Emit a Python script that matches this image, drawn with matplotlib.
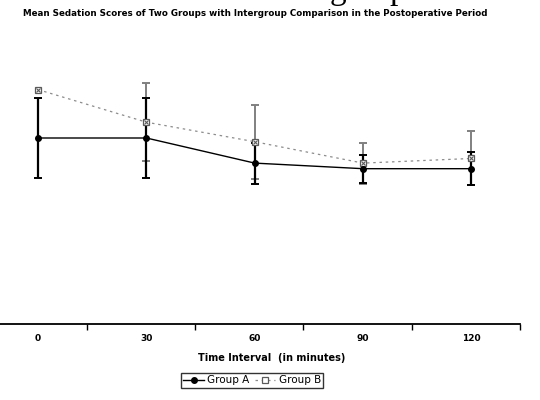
import numpy as np
import matplotlib.pyplot as plt

# time points (minutes)
time_labels = ["0", "30", "60", "90", "120"]

# mean sedation scores and SD
group_a = [2.00, 2.00, 1.73, 1.67, 1.67]
group_a_sd = [0.43, 0.43, 0.22, 0.15, 0.18]
group_b = [2.52, 2.17, 1.96, 1.73, 1.78]
group_b_sd = [0.00, 0.42, 0.40, 0.22, 0.29]

x = np.arange(len(time_labels))

fig = plt.figure(figsize=(5.4, 4.0), dpi=100)
ax = fig.add_axes([0.0, 0.19, 0.963, 0.6975])

# error bars first (Group B has no bar at 0 min)
ax.errorbar(x, group_b, yerr=group_b_sd, fmt="none", ecolor="#808080",
            elinewidth=1.4, capsize=3, capthick=1.4, errorevery=(1, 1), zorder=2)
ax.errorbar(x, group_a, yerr=group_a_sd, fmt="none", ecolor="black",
            elinewidth=1.6, capsize=3, capthick=1.4, zorder=3)

# Group A - solid black with dots
ax.plot(x, group_a, color="black", lw=1.0, marker="o", ms=4, label="Group A", zorder=4)
# Group B - dotted grey with boxed cross
ax.plot(x, group_b, color="#8c8c8c", lw=0.9, ls=(0, (2, 3)),
        marker="s", ms=5, mec="#5a5a5a", mfc="white", mew=0.9,
        label="Group B", zorder=3)
ax.plot(x, group_b, ls="none", marker="x", ms=3.5, mec="#5a5a5a", mew=0.8, zorder=3)

ax.set_xlim(-0.352, 4.343)
ax.set_ylim(0, 3)

for s in ["top", "right", "left"]:
    ax.spines[s].set_visible(False)
ax.spines["bottom"].set_linewidth(1.3)
ax.set_yticks([])

ax.set_xticks(x)
ax.set_xticklabels(time_labels, fontsize=6.5, fontweight="bold")
ax.tick_params(axis="x", which="major", length=0, pad=7)
ax.set_xticks(x + 0.45, minor=True)
ax.tick_params(axis="x", which="minor", length=4, width=1.0, direction="out")

ax.set_xlabel("Time Interval  (in minutes)", fontsize=7, fontweight="bold")
ax.xaxis.set_label_coords(272 / 520, -0.105)

leg = ax.legend(loc="upper center", bbox_to_anchor=(252 / 520, -0.175), ncol=2,
                frameon=True, fancybox=False, fontsize=7.5, handlelength=2.0,
                handletextpad=0.3, columnspacing=0.5, borderpad=0.25,
                borderaxespad=0)
leg.get_frame().set_edgecolor("black")
leg.get_frame().set_linewidth(1.0)

fig.text(255 / 540, 1 - 13 / 400,
         "Mean Sedation Scores of Two Groups with Intergroup Comparison in the Postoperative Period",
         ha="center", va="center", fontsize=6.3, fontweight="bold")

# heading from the page above, cut off by the top edge as in the scan
fig.text(330 / 540, 1 + 1 / 400, "group", ha="left", va="baseline",
         fontsize=24, family="Liberation Serif")

fig.savefig("out.png", dpi=100)
